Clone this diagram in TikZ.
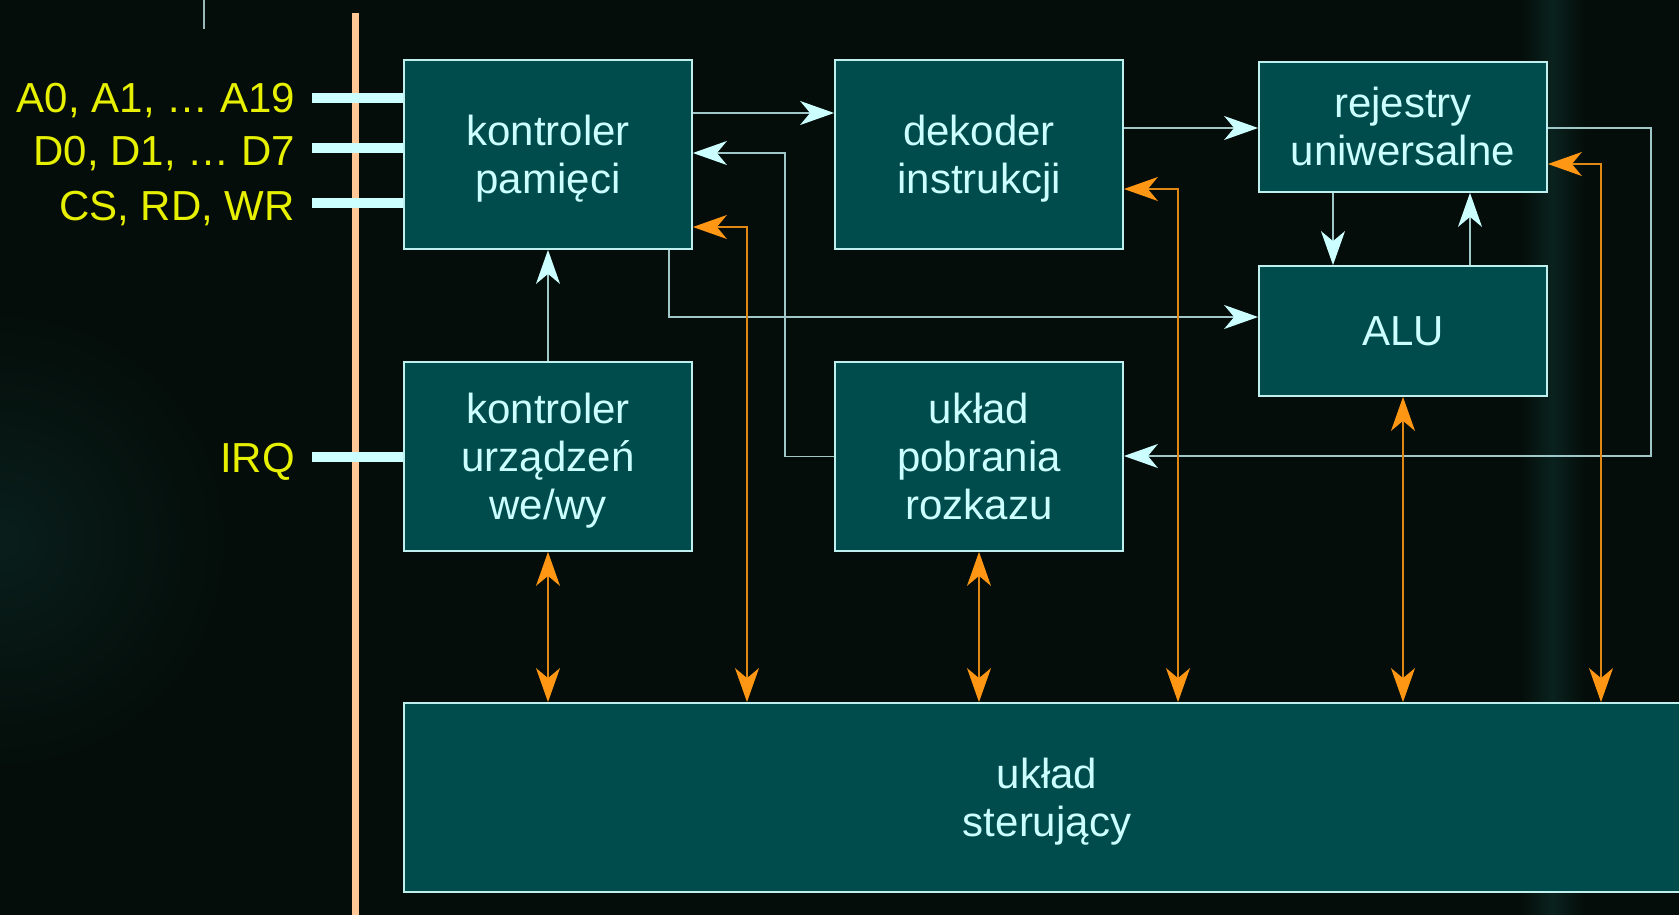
\documentclass[tikz,border=0pt]{standalone}
\usepackage{fontspec}
\setmainfont{Liberation Sans}
\usetikzlibrary{arrows.meta,calc}
\definecolor{bg}{RGB}{4,13,9}
\definecolor{glow}{RGB}{10,34,30}
\definecolor{glowl}{RGB}{9,30,27}
\definecolor{boxfill}{RGB}{0,75,75}
\definecolor{boxline}{RGB}{190,240,240}
\definecolor{txt}{RGB}{204,255,255}
\definecolor{lnc}{RGB}{160,200,200}
\definecolor{tipc}{RGB}{204,255,255}
\definecolor{orl}{RGB}{225,135,20}
\definecolor{ortip}{RGB}{255,150,20}
\definecolor{lbl}{RGB}{230,240,0}
\definecolor{peach}{RGB}{255,200,150}
\definecolor{barc}{RGB}{204,255,255}
\newcommand\tst{\rule[-8.9pt]{0pt}{46.9pt}}
\tikzset{
  blk/.style={draw=boxline, line width=1.8pt, fill=boxfill, text=txt, inner sep=0pt,
    align=center, font=\fontsize{42}{48}\selectfont},
  lab/.style={text=lbl, inner sep=0pt, font=\fontsize{42}{48}\selectfont, anchor=base east},
  cytip/.tip={Stealth[length=34pt,width=24pt,inset=10pt,color=tipc]},
  ortipx/.tip={Stealth[length=34pt,width=24pt,inset=10pt,color=ortip]},
  cyline/.style={draw=lnc, line width=1.4pt, -cytip},
  orline/.style={draw=orl, line width=1.4pt, ortipx-ortipx},
  busbar/.style={draw=barc, line width=10pt},
}
\begin{document}
\begin{tikzpicture}[x=1pt,y=-1pt]
\useasboundingbox (0,0) rectangle (1679,915);
\fill[bg] (0,0) rectangle (1679,915);
% faint background glow
\begin{scope}
\clip (0,0) rectangle (1679,915);
\shade[left color=bg, right color=bg, middle color=glow] (1520,0) rectangle (1585,915);
\shade[inner color=glowl, outer color=bg] (0,540) circle (230);
\end{scope}

% boxes
\node[blk, minimum width=288pt, minimum height=189pt] (kp)  at (548,154.5) {\tst kontroler\\\tst pamięci};
\node[blk, minimum width=288pt, minimum height=189pt] (dek) at (979,154.5) {\tst dekoder\\\tst instrukcji};
\node[blk, minimum width=288pt, minimum height=130pt] (rej) at (1403,127) {\tst rejestry\\\tst uniwersalne};
\node[blk, minimum width=288pt, minimum height=130pt] (alu) at (1403,331) {\tst ALU};
\node[blk, minimum width=288pt, minimum height=189pt] (kio) at (548,456.5) {\tst kontroler\\\tst urządzeń\\\tst we/wy};
\node[blk, minimum width=288pt, minimum height=189pt] (upr) at (979,456.5) {\tst układ\\\tst pobrania\\\tst rozkazu};
\node[blk, minimum width=1286pt, minimum height=189pt] (ster) at (1047,797.5) {\tst układ\\\tst sterujący};

% top small line
\coordinate (tl0) at (204,0);
\coordinate (tl1) at (204,29);
\draw[draw=lnc!80!gray, line width=1.5pt] (tl0) -- (tl1);

% peach bus line
\coordinate (pb0) at (355.5,13);
\coordinate (pb1) at (355.5,915);
\draw[draw=peach, line width=7.5pt] (pb0) -- (pb1);

% external signal bars and labels
\node[lab] (la) at (295,113) {A0, A1, … A19};
\node[lab] (ld) at (295,165) {D0, D1, … D7};
\node[lab] (lc) at (295,220) {CS, RD, WR};
\node[lab] (li) at (295,472) {IRQ};
\draw[busbar] (312,98) -- (kp.west|-0,98);
\draw[busbar] (312,148) -- (kp.west|-0,148);
\draw[busbar] (312,203) -- (kp.west|-0,203);
\draw[busbar] (312,457) -- (kio.west|-0,457);

% cyan connectors
\draw[cyline] (kp.east|-0,113) -- (dek.west|-0,113);
\draw[cyline] (upr.west) -| (785,153) -- (kp.east|-0,153);
\draw[cyline] (kio.north) -- (kp.south);
\draw[cyline] (kp.south-|669,0) |- (alu.west|-0,317);
\draw[cyline] (dek.east|-0,128) -- (rej.west|-0,128);
\draw[cyline] (rej.south-|1333,0) -- (alu.north-|1333,0);
\draw[cyline] (alu.north-|1470,0) -- (rej.south-|1470,0);
\draw[cyline] (rej.east|-0,128) -| (1651,456) -- (upr.east|-0,456);

% orange connectors
\draw[orline] (kio.south) -- (ster.north-|kio.south);
\draw[orline] (upr.south) -- (ster.north-|upr.south);
\draw[orline] (ster.north-|747,0) |- (kp.east|-0,227);
\draw[orline] (ster.north-|1178,0) |- (dek.east|-0,189);
\draw[orline] (ster.north-|alu.south) -- (alu.south);
\draw[orline] (ster.north-|1601,0) |- (rej.east|-0,164);
\end{tikzpicture}
\end{document}
